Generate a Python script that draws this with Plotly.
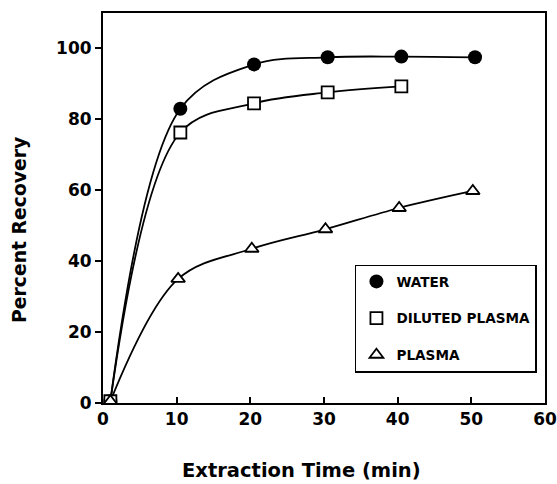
import plotly.graph_objects as go

time_water = [1, 10.5, 20.5, 30.5, 40.5, 50.5]
water = [0.5, 83, 95.5, 97.5, 97.7, 97.5]
time_diluted = [1, 10.5, 20.5, 30.5, 40.5]
diluted = [0.5, 76.3, 84.5, 87.6, 89.3]
time_plasma = [1, 10.2, 20.2, 30.2, 40.2, 50.2]
plasma = [0.5, 35, 43.5, 49, 55, 59.8]

x_ticks = [0, 10, 20, 30, 40, 50, 60]
y_ticks = [0, 20, 40, 60, 80, 100]

FONT = "DejaVu Sans, Liberation Sans, Arial, sans-serif"

series = [
    ("WATER", time_water, water, dict(symbol="circle", size=14, color="black")),
    ("DILUTED PLASMA", time_diluted, diluted,
     dict(symbol="square", size=12, color="white", line=dict(color="black", width=1.8))),
    ("PLASMA", time_plasma, plasma,
     dict(symbol="triangle-up", size=12, color="white", line=dict(color="black", width=1.8))),
]

fig = go.Figure()
for name, xs, ys, mk in series:
    fig.add_trace(go.Scatter(
        x=xs, y=ys, mode="lines", showlegend=False, hoverinfo="skip",
        line=dict(color="black", width=1.8, shape="spline", smoothing=1.0),
    ))
for name, xs, ys, mk in series:
    fig.add_trace(go.Scatter(
        x=xs, y=ys, name=name, mode="markers", marker=mk, legendgroup=name,
    ))

axis_common = dict(
    showgrid=False, zeroline=False, showline=True, linecolor="black", linewidth=2,
    mirror=True, ticklen=6, tickwidth=2, tickcolor="black", automargin=False,
    tickfont=dict(family=FONT, size=17, color="black", weight="bold"),
)
fig.update_xaxes(range=[0, 60], tickvals=x_ticks, ticks="inside", **axis_common)
fig.update_yaxes(range=[0, 110], tickvals=y_ticks, ticks="outside", **axis_common)

fig.add_annotation(text="Extraction Time (min)", xref="paper", yref="paper",
                   x=0.450, y=-0.174, xanchor="center", yanchor="middle",
                   showarrow=False,
                   font=dict(family=FONT, size=19.5, color="black", weight="bold"))
fig.add_annotation(text="Percent Recovery", xref="paper", yref="paper",
                   x=-0.188, y=0.4436, xanchor="center", yanchor="middle",
                   textangle=-90, showarrow=False,
                   font=dict(family=FONT, size=18.8, color="black", weight="bold"))

fig.update_layout(
    width=557, height=484,
    margin=dict(l=103, r=12, t=13, b=81, autoexpand=False),
    paper_bgcolor="white", plot_bgcolor="white",
    showlegend=True,
    legend=dict(x=0.57, y=0.355, xanchor="left", yanchor="top",
                bgcolor="white", bordercolor="black", borderwidth=1.5,
                font=dict(family=FONT, size=13.6, color="black", weight="bold"),
                itemwidth=30, tracegroupgap=16, traceorder="grouped"),
)
fig.write_html("out.html")
